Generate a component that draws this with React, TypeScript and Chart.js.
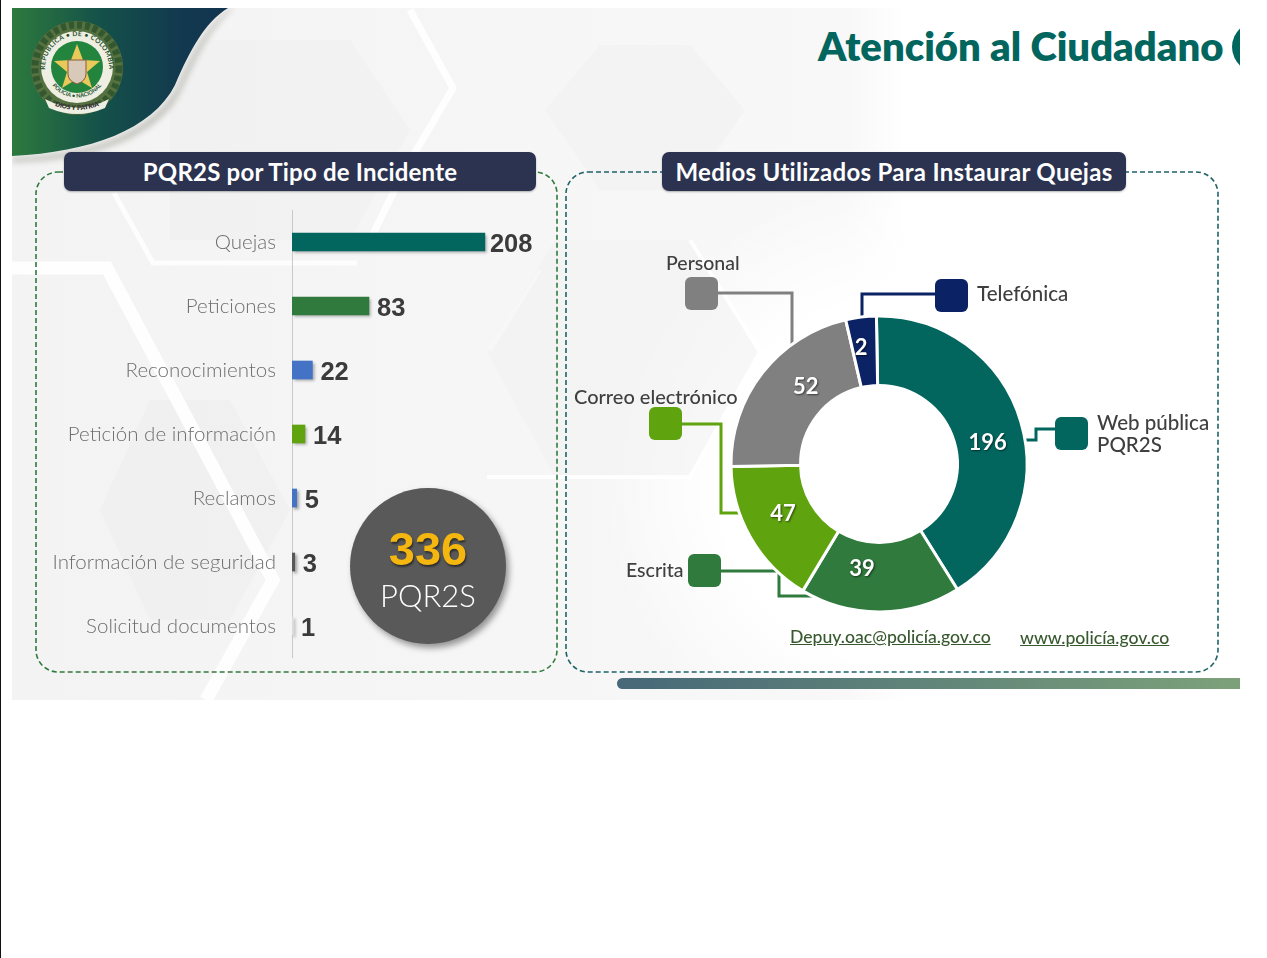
import React, { useEffect, useRef } from "react";
import { Chart, registerables } from "chart.js";

Chart.register(...registerables);

const incidentLabels = ["Quejas", "Peticiones", "Reconocimientos", "Petición de información", "Reclamos", "Información de seguridad", "Solicitud documentos"];
const incidentValues = [208, 83, 22, 14, 5, 3, 1];
const incidentColors = ["#02665f", "#2f7a3c", "#4472c4", "#5fa30e", "#4472c4", "#595959", "#dcdcdc"];

const mediaLabels = ["Web pública PQR2S", "Escrita", "Correo electrónico", "Personal", "Telefónica"];
// Printed values on the slices.
const mediaValues = [196, 39, 47, 52, 2];
// The reference's slices are not proportional to their printed values, so the
// drawn angular spans (degrees) are kept separately.
const mediaDrawnSpans = [149, 63, 58, 78, 12];
const mediaColors = ["#02665f", "#2f7a3c", "#5fa30e", "#808080", "#0b2265"];

const FONT = "Lato, 'Open Sans', sans-serif";
const NUM = "'Liberation Sans', Arial, sans-serif";

const barShadow = {
  id: "barShadow",
  beforeDatasetsDraw(chart: any) {
    const { ctx } = chart;
    ctx.save();
    ctx.shadowColor = "rgba(0,0,0,0.35)";
    ctx.shadowBlur = 3;
    ctx.shadowOffsetX = 2;
    ctx.shadowOffsetY = 2;
  },
  afterDatasetsDraw(chart: any) {
    chart.ctx.restore();
  },
};

const barValueLabels = {
  id: "barValueLabels",
  afterDraw(chart: any) {
    const { ctx } = chart;
    const meta = chart.getDatasetMeta(0);
    ctx.save();
    ctx.font = `bold 25.5px ${NUM}`;
    ctx.fillStyle = "#3b3b3b";
    ctx.textBaseline = "middle";
    ctx.textAlign = "left";
    meta.data.forEach((el: any, i: number) => {
      ctx.fillText(String(incidentValues[i]), el.x + (i < 1 ? 5 : 8), el.y + 3);
    });
    ctx.restore();
  },
};

const sliceLabelNudges = [[0, 11], [-18, -8], [2, -7], [16, -7], [-4, -4]];

const sliceValueLabels = {
  id: "sliceValueLabels",
  afterDatasetsDraw(chart: any) {
    const { ctx } = chart;
    const meta = chart.getDatasetMeta(0);
    ctx.save();
    ctx.font = `bold 22px ${FONT}`;
    ctx.textAlign = "center";
    ctx.textBaseline = "middle";
    ctx.fillStyle = "#ffffff";
    ctx.shadowColor = "rgba(0,0,0,0.55)";
    ctx.shadowBlur = 2;
    ctx.shadowOffsetX = 1;
    ctx.shadowOffsetY = 1;
    meta.data.forEach((el: any, i: number) => {
      const p = el.tooltipPosition();
      ctx.fillText(String(mediaValues[i]), p.x + sliceLabelNudges[i][0], p.y + sliceLabelNudges[i][1]);
    });
    ctx.restore();
  },
};

const abs = (left: number, top: number, extra: React.CSSProperties = {}): React.CSSProperties => ({
  position: "absolute",
  left,
  top,
  whiteSpace: "nowrap",
  ...extra,
});

const calloutText: React.CSSProperties = { fontFamily: FONT, fontSize: 19.5, fontWeight: 500, color: "#3f3f3f", lineHeight: "22px" };

function Crest() {
  const cx = 77;
  const cy = 68;
  return (
    <g>
      <defs>
        <path id="crestTop" d={`M ${cx - 31} ${cy + 8} A 32 32 0 1 1 ${cx + 31} ${cy + 8}`} />
        <path id="crestBottom" d={`M ${cx - 25} ${cy + 17} A 31 31 0 0 0 ${cx + 25} ${cy + 17}`} />
      </defs>
      <ellipse cx={cx} cy={cy} rx={46} ry={47} fill="#54713f" />
      <ellipse cx={cx} cy={cy} rx={42} ry={43} fill="none" stroke="#33572f" strokeWidth={7} strokeDasharray="5 3" />
      <circle cx={cx} cy={cy - 1} r={36} fill="#eeeee2" />
      <circle cx={cx} cy={cy - 1} r={26} fill="#23853d" />
      <text fontFamily={FONT} fontSize={6.6} fontWeight={700} fill="#244f2c" letterSpacing={0.4}>
        <textPath href="#crestTop" startOffset="50%" textAnchor="middle">REPUBLICA • DE • COLOMBIA</textPath>
      </text>
      <text fontFamily={FONT} fontSize={5.6} fontWeight={700} fill="#244f2c">
        <textPath href="#crestBottom" startOffset="50%" textAnchor="middle">POLICIA • NACIONAL</textPath>
      </text>
      <polygon points={`${cx},${cy - 24} ${cx + 6},${cy - 8} ${cx + 23},${cy - 7} ${cx + 10},${cy + 4} ${cx + 15},${cy + 20} ${cx},${cy + 11} ${cx - 15},${cy + 20} ${cx - 10},${cy + 4} ${cx - 23},${cy - 7} ${cx - 6},${cy - 8}`} fill="#e8c95a" />
      <path d={`M ${cx - 9} ${cy - 8} H ${cx + 9} V ${cy + 6} Q ${cx + 9} ${cy + 13} ${cx} ${cy + 16} Q ${cx - 9} ${cy + 13} ${cx - 9} ${cy + 6} Z`} fill="#d9c9b8" stroke="#8c5a3c" />
      <path d={`M ${cx - 32} ${cy + 31} Q ${cx} ${cy + 48} ${cx + 32} ${cy + 31} L ${cx + 28} ${cy + 40} Q ${cx} ${cy + 52} ${cx - 28} ${cy + 40} Z`} fill="#eeeee2" />
      <path id="crestRibbon" d={`M ${cx - 26} ${cy + 36} Q ${cx} ${cy + 48} ${cx + 26} ${cy + 36}`} fill="none" />
      <text fontFamily={FONT} fontSize={6.5} fontWeight={800} fill="#333">
        <textPath href="#crestRibbon" startOffset="50%" textAnchor="middle">DIOS Y PATRIA</textPath>
      </text>
    </g>
  );
}

function Background() {
  const band = { fill: "none", stroke: "#ffffff", strokeLinejoin: "miter" as const };
  return (
    <svg width={1228} height={692} viewBox="12 8 1228 692" style={{ position: "absolute", left: 12, top: 8 }}>
      <defs>
        <linearGradient id="slide" x1="0" x2="1" y1="0" y2="0">
          <stop offset="0" stopColor="#f3f3f3" />
          <stop offset="0.68" stopColor="#f8f8f8" />
          <stop offset="0.73" stopColor="#ffffff" />
          <stop offset="1" stopColor="#ffffff" />
        </linearGradient>
        <radialGradient id="glow" gradientUnits="userSpaceOnUse" cx={900} cy={480} r={300}>
          <stop offset="0" stopColor="#ffffff" stopOpacity={1} />
          <stop offset="0.6" stopColor="#ffffff" stopOpacity={1} />
          <stop offset="1" stopColor="#ffffff" stopOpacity={0} />
        </radialGradient>
        <linearGradient id="head" x1="0" x2="1" y1="0" y2="0">
          <stop offset="0" stopColor="#2d7a3e" />
          <stop offset="0.42" stopColor="#145049" />
          <stop offset="0.8" stopColor="#12384f" />
          <stop offset="1" stopColor="#12354f" />
        </linearGradient>
        <linearGradient id="tail" x1="0" x2="1" y1="0" y2="0">
          <stop offset="0" stopColor="#466878" />
          <stop offset="1" stopColor="#7ea37a" />
        </linearGradient>
        <filter id="soft" x="-20%" y="-20%" width="140%" height="140%">
          <feGaussianBlur stdDeviation="3" />
        </filter>
      </defs>
      <rect x={12} y={8} width={1228} height={692} fill="url(#slide)" />
      <polygon points="545,110 600,45 690,45 745,110 690,190 600,190" fill="#f0f0f0" opacity={0.5} />
      <polygon points="150,400 230,400 290,510 230,620 150,620 100,510" fill="#ebebeb" opacity={0.4} />
      <polygon points="170,40 350,40 410,130 350,240 170,240" fill="#eeeeee" opacity={0.4} />
      <polyline points="12,268 107,268 273,580 206,700" {...band} strokeWidth={13} opacity={0.9} />
      <polyline points="114,193 153,263 357,263" {...band} strokeWidth={5} opacity={0.8} />
      <polyline points="410,10 453,88 403,173 370,240" {...band} strokeWidth={7} opacity={0.9} />
      <polyline points="490,350 540,270" {...band} strokeWidth={4} opacity={0.8} />
      <rect x={560} y={180} width={680} height={500} fill="url(#glow)" />
      <polygon points="487,352 555,240 690,240 760,352 690,477 555,477" fill="#f0f0f0" opacity={0.45} />
      <polyline points="690,240 760,352 690,477 487,477" {...band} strokeWidth={4} opacity={0.9} />
      <path d="M12 158 C100 154 152 130 177 88 C193 52 205 28 230 8 L233 8 C207 32 196 58 181 90 C160 134 100 160 12 162 Z" fill="#77776a" opacity={0.45} filter="url(#soft)" />
      <path d="M12 8 H228 C205 22 190 50 175 85 C152 130 90 152 12 156 Z" fill="url(#head)" />
      <Crest />
      <rect x={617} y={678} width={640} height={11} rx={5.5} fill="url(#tail)" />
      <ellipse cx={1264} cy={47} rx={32} ry={28} fill="#02665f" />
      <rect x={36} y={172} width={521} height={500} rx={22} fill="none" stroke="#2f7a3c" strokeWidth={1.6} strokeDasharray="5 3" />
      <rect x={566} y={172} width={652} height={500} rx={22} fill="none" stroke="#1e6368" strokeWidth={1.6} strokeDasharray="5 3" />
    </svg>
  );
}

function Callouts() {
  const lines = [
    { color: mediaColors[0], points: "1024,440 1036,440 1036,429 1056,429" },
    { color: mediaColors[1], points: "720,571 779,571 779,596 835,596" },
    { color: mediaColors[2], points: "680,424 721,424 721,513 745,513" },
    { color: mediaColors[3], points: "716,293 792,293 792,350" },
    { color: mediaColors[4], points: "936,294 862,294 862,325" },
  ];
  const swatches = [
    { color: mediaColors[0], x: 1055, y: 417 },
    { color: mediaColors[1], x: 688, y: 554 },
    { color: mediaColors[2], x: 649, y: 407 },
    { color: mediaColors[3], x: 685, y: 277 },
    { color: mediaColors[4], x: 935, y: 279 },
  ];
  return (
    <svg width={1267} height={958} style={{ position: "absolute", left: 0, top: 0 }}>
      {lines.map((l, i) => (
        <polyline key={i} points={l.points} fill="none" stroke={l.color} strokeWidth={3} />
      ))}
      {swatches.map((s, i) => (
        <rect key={i} x={s.x} y={s.y} width={33} height={33} rx={6} fill={s.color} />
      ))}
    </svg>
  );
}

export default function App() {
  const barRef = useRef<HTMLCanvasElement>(null);
  const ringRef = useRef<HTMLCanvasElement>(null);

  useEffect(() => {
    const bar = new Chart(barRef.current!, {
      type: "bar",
      data: {
        labels: incidentLabels,
        datasets: [
          {
            data: incidentValues,
            backgroundColor: incidentColors,
            barThickness: 18,
            borderSkipped: false,
          },
        ],
      },
      options: {
        animation: false,
        responsive: false,
        indexAxis: "y",
        layout: { padding: 0 },
        plugins: { legend: { display: false }, tooltip: { enabled: false } },
        scales: {
          x: { display: false, min: 0, max: 289 },
          y: {
            afterFit(axis: any) {
              axis.width = 272;
              axis.paddingTop = 0;
              axis.paddingBottom = 0;
            },
            grid: { display: false, drawTicks: false },
            border: { display: true, color: "#c9c9c9", width: 1 },
            ticks: {
              color: "#6e6e6e",
              padding: 16,
              font: { family: "Lato, 'Open Sans', sans-serif", size: 20.5, weight: 300 },
            },
          },
        },
      },
      plugins: [barShadow, barValueLabels],
    } as any);

    const ring = new Chart(ringRef.current!, {
      type: "doughnut",
      data: {
        labels: mediaLabels,
        datasets: [
          {
            data: mediaDrawnSpans,
            backgroundColor: mediaColors,
            borderColor: "#ffffff",
            borderWidth: 3,
          },
        ],
      },
      options: {
        animation: false,
        responsive: false,
        rotation: -1,
        radius: 148,
        cutout: 84,
        plugins: { legend: { display: false }, tooltip: { enabled: false } },
      },
      plugins: [sliceValueLabels],
    } as any);

    return () => {
      bar.destroy();
      ring.destroy();
    };
  }, []);

  const bannerStyle: React.CSSProperties = { height: 39, background: "#2b3350", borderRadius: 7, boxShadow: "0 1px 2px rgba(0,0,0,.3)", color: "#fff", fontFamily: FONT, fontWeight: 700, fontSize: 24, lineHeight: "39px", textAlign: "center" };
  const linkStyle: React.CSSProperties = { fontFamily: FONT, fontSize: 17.6, lineHeight: "20px", fontWeight: 500, color: "#38592f", textDecoration: "underline" };

  return (
    <div style={{ position: "absolute", left: 0, top: 0, width: 1267, height: 958, overflow: "hidden", background: "#fff" }}>
      <div style={{ position: "absolute", left: 0, top: 0, width: 1, height: 958, background: "#111" }} />
      <Background />

      <div style={abs(818, 23, { fontFamily: FONT, fontWeight: 800, fontSize: 40, lineHeight: "46px", color: "#02665f" })}>Atención al Ciudadano</div>

      <div style={abs(64, 152, { ...bannerStyle, width: 472, letterSpacing: 0.2 })}>PQR2S por Tipo de Incidente</div>
      <div style={abs(662, 152, { ...bannerStyle, width: 464, letterSpacing: 0.3 })}>Medios Utilizados Para Instaurar Quejas</div>

      <canvas ref={barRef} width={540} height={448} style={{ position: "absolute", left: 20, top: 210, width: 540, height: 448 }} />

      <div style={abs(350, 488, { width: 156, height: 156, borderRadius: "50%", background: "#595959", boxShadow: "3px 4px 6px rgba(0,0,0,.4)" })} />
      <div style={abs(350, 522, { width: 156, textAlign: "center", fontFamily: NUM, fontWeight: 700, fontSize: 47, lineHeight: "54px", color: "#f5b70f", textShadow: "1px 2px 2px rgba(0,0,0,.5)" })}>{String(incidentValues.reduce((a, b) => a + b, 0))}</div>
      <div style={abs(350, 576, { width: 156, textAlign: "center", fontFamily: FONT, fontWeight: 300, fontSize: 31, lineHeight: "38px", color: "#fff" })}>PQR2S</div>

      <Callouts />
      <canvas ref={ringRef} width={320} height={320} style={{ position: "absolute", left: 719, top: 304, width: 320, height: 320 }} />

      <div style={abs(666, 252, calloutText)}>Personal</div>
      <div style={abs(977, 282, { ...calloutText, fontSize: 20.5 })}>Telefónica</div>
      <div style={abs(574, 385, { ...calloutText, fontSize: 20 })}>Correo electrónico</div>
      <div style={abs(626, 559, calloutText)}>Escrita</div>
      <div style={abs(1097, 411, { ...calloutText, fontSize: 20.5 })}>Web pública<br />PQR2S</div>

      <div style={abs(790, 627, linkStyle)}>Depuy.oac@policía.gov.co</div>
      <div style={abs(1020, 628, linkStyle)}>www.policía.gov.co</div>
    </div>
  );
}
